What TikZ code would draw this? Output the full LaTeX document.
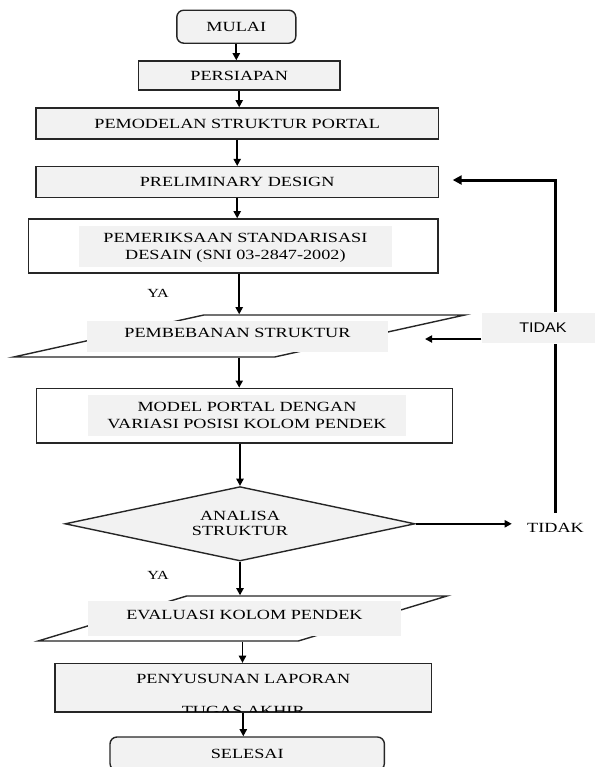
\documentclass[tikz,border=0pt]{standalone}
\usepackage{xcolor}
\usepackage{fontspec}
\setmainfont{Liberation Serif}[FakeStretch=1.3]
\newfontfamily\sansfnt{Liberation Sans}[FakeStretch=1.15]
\usepackage{tikz}
\usetikzlibrary{arrows.meta,shapes.geometric}
\definecolor{boxgray}{HTML}{F2F2F2}

\begin{document}
\begin{tikzpicture}[
  x=0.5pt, y=-0.5pt,
  font=\fontsize{7}{8.5}\selectfont,
  proc/.style={draw=black!85, line width=0.7pt, fill=boxgray, inner sep=0pt, align=center},
  term/.style={proc, rounded corners=3.5pt},
  frame/.style={draw=black!85, line width=0.7pt, fill=white, inner sep=0pt},
  lbl/.style={fill=boxgray, inner sep=0pt, align=center},
  io/.style={frame, trapezium, trapezium stretches, inner sep=1pt},
  cond/.style={proc, diamond, aspect=4.7},
  arrow/.style={-{Triangle[length=3.6pt,width=3.6pt]}, line width=0.9pt},
  back/.style={line width=1.5pt}
]
\useasboundingbox (0,0) rectangle (595,767);
\clip (0,0) rectangle (595,767);
\node[term, minimum width=59.5pt, minimum height=16.5pt] (mulai) at (236.3,26.7) {MULAI};
\node[proc, minimum width=100.8pt, minimum height=14.5pt] (siap) at (239.2,75.5) {PERSIAPAN};
\node[proc, minimum width=201.2pt, minimum height=15.5pt] (portal) at (237.2,123.5) {PEMODELAN STRUKTUR PORTAL};
\node[proc, minimum width=201.2pt, minimum height=15.5pt] (prelim) at (237.2,182.2) {PRELIMINARY DESIGN};
\node[frame, minimum width=204.8pt, minimum height=27pt] (cek) at (233.2,246) {};
\node[lbl, minimum width=156.6pt, minimum height=20.5pt, text depth=0.5pt] (cektxt) at (235.4,246.5) {PEMERIKSAAN STANDARISASI\\DESAIN (SNI 03-2847-2002)};
\node[io, trapezium left angle=20.4, trapezium right angle=159.6, minimum width=225.8pt, minimum height=21pt] (beban) at (239.2,336) {};
\node[lbl, minimum width=150.2pt, minimum height=15.5pt, text depth=3pt] (bebantxt) at (237.5,336.2) {PEMBEBANAN STRUKTUR};
\node[frame, minimum width=208pt, minimum height=27.3pt] (variasi) at (244.7,415.7) {};
\node[lbl, minimum width=158.7pt, minimum height=20.5pt] (variasitxt) at (247,415.5) {MODEL PORTAL DENGAN\\VARIASI POSISI KOLOM PENDEK};
\node[cond, minimum width=175pt, minimum height=37.2pt] (analisa) at (240,523.8) {ANALISA\\[-1pt]STRUKTUR};
\node[io, trapezium left angle=36.9, trapezium right angle=143.1, minimum width=204.5pt, minimum height=22.5pt] (evaluasi) at (242.5,618.5) {};
\node[lbl, minimum width=156.5pt, minimum height=17.5pt, text depth=4pt] (evaltxt) at (244.5,618.5) {EVALUASI KOLOM PENDEK};
\node[proc, minimum width=188.3pt, minimum height=24.2pt] (lapor) at (243.3,687.8) {};
\node (laportxt) at (243.3,678.7) {PENYUSUNAN LAPORAN};
\begin{scope}
\clip (lapor.north west) rectangle ([yshift=0.8pt]lapor.south east);
\node (tugas) at (243.3,711) {TUGAS AKHIR};
\end{scope}
\node[term, minimum width=137.2pt, minimum height=16.7pt] (selesai) at (247.2,753.7) {SELESAI};
\node[lbl, font=\sansfnt\fontsize{7}{8}\selectfont, minimum width=56.7pt, minimum height=15.3pt] (tidaka) at (538.4,328) {\hspace{4.6pt}TIDAK};
\node[inner xsep=7.5pt, inner ysep=5.2pt] (tidakb) at (555.5,528.3) {TIDAK};
\node[font=\fontsize{6.2}{7}\selectfont] (ya1) at (158,293) {YA};
\node[font=\fontsize{6.2}{7}\selectfont] (ya2) at (158,575.7) {YA};
\coordinate (back1) at (452.7,180);
\coordinate (back2) at (425,339);
\draw[arrow] (mulai.south) -- (mulai.south |- siap.north);
\draw[arrow] (siap.south) -- (siap.south |- portal.north);
\draw[arrow] (portal.south) -- (prelim.north);
\draw[arrow] (prelim.south) -- (prelim.south |- cek.north);
\draw[arrow] (beban |- cek.south) -- (beban |- beban.north);
\draw[arrow] (beban |- beban.south) -- (beban |- variasi.north);
\draw[arrow] (analisa.north |- variasi.south) -- (analisa.north);
\draw[arrow] (analisa.south) -- (analisa.south |- evaluasi.north);
\draw[arrow] (evaluasi |- evaluasi.south) -- (evaluasi |- lapor.north);
\draw[arrow] (lapor.south) -- (lapor.south |- selesai.north);
\draw[arrow] (analisa.east) -- (analisa.east -| tidakb.west);
\draw[line width=1.2pt] (tidakb.north) -- (tidakb.north |- tidaka.south);
\draw[back, -{Triangle[length=4.5pt,width=4.5pt]}] (tidakb.north |- tidaka.north) |- (back1);
\draw[arrow] (tidaka.west |- back2) -- (back2);
\end{tikzpicture}
\end{document}
